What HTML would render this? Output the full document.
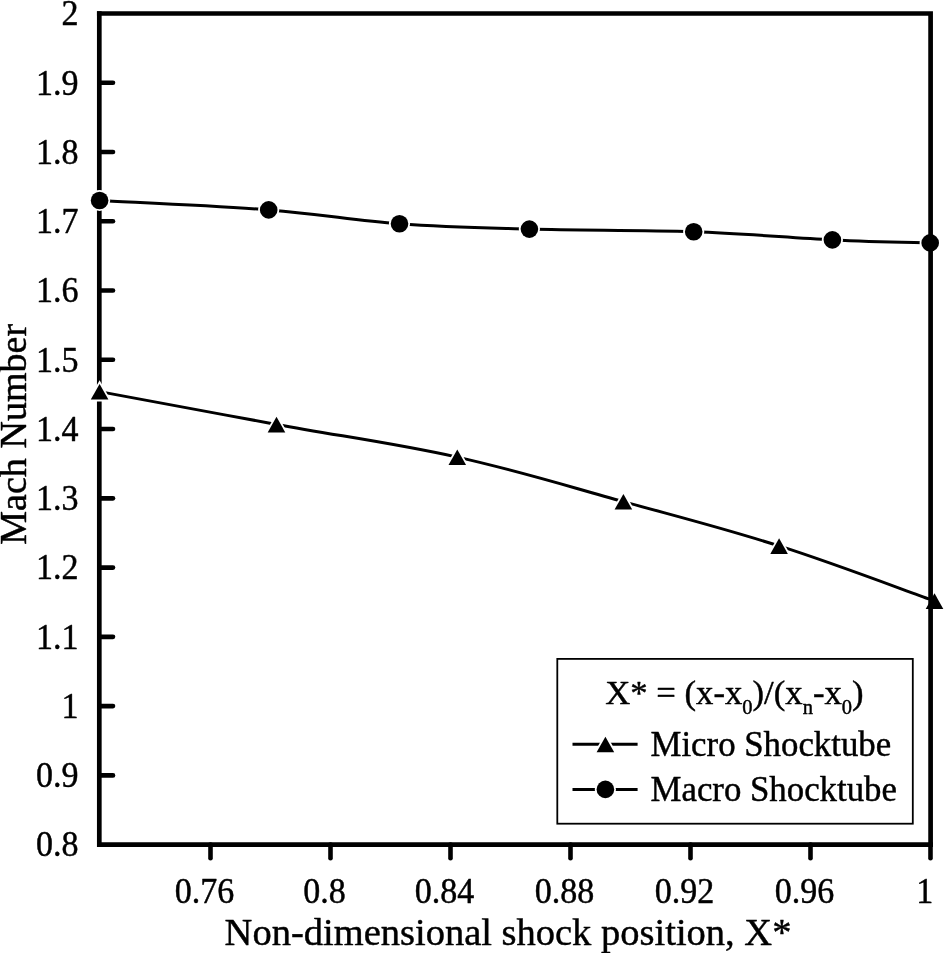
<!DOCTYPE html>
<html lang="en"><head><meta charset="utf-8"><title>Mach Number vs shock position</title>
<style>html,body{margin:0;padding:0;background:#fff}body{width:944px;height:953px;overflow:hidden}svg{display:block}text{font-family:"Liberation Serif","DejaVu Serif",serif;fill:#000;stroke:#000;stroke-width:0.45px;stroke-linejoin:round}</style></head><body>
<svg width="944" height="953" viewBox="0 0 944 953">
<rect width="944" height="953" fill="#fff"/>
<g stroke="#000" stroke-width="4.7" fill="none" stroke-linecap="square">
<path d="M99.3 13.5 V844.6 H930.6"/>
</g>
<g stroke="#000" stroke-width="4.6" stroke-linecap="round" fill="none">
<path d="M99.3 82.76 H113.0"/>
<path d="M99.3 152.03 H113.0"/>
<path d="M99.3 221.29 H113.0"/>
<path d="M99.3 290.55 H113.0"/>
<path d="M99.3 359.81 H113.0"/>
<path d="M99.3 429.07 H113.0"/>
<path d="M99.3 498.34 H113.0"/>
<path d="M99.3 567.60 H113.0"/>
<path d="M99.3 636.86 H113.0"/>
<path d="M99.3 706.12 H113.0"/>
<path d="M99.3 775.39 H113.0"/>
<path d="M210.5 844.6 V858.3"/>
<path d="M330.5 844.6 V858.3"/>
<path d="M450.5 844.6 V858.3"/>
<path d="M570.5 844.6 V858.3"/>
<path d="M690.5 844.6 V858.3"/>
<path d="M810.5 844.6 V858.3"/>
<path d="M930.5 844.6 V858.3"/>
</g>
<g stroke="#000" stroke-width="3.0" fill="none">
<path d="M99.6 200.5 C130.0 202.2 214.7 205.7 268.7 209.9 C322.7 214.1 352.6 220.2 399.5 223.7 C446.4 227.2 476.4 227.6 529.4 229.1 C582.4 230.6 639.2 229.9 693.7 231.8 C748.2 233.7 789.8 237.9 832.4 239.9 C875.0 241.9 912.6 242.4 930.2 242.9"/>
<path d="M99.6 391.6 C131.4 397.5 212.1 412.6 276.5 424.4 C340.9 436.2 394.9 443.2 457.3 457.1 C519.7 471.0 565.5 485.6 623.4 501.6 C681.3 517.6 723.8 528.3 779.1 545.9 C834.4 563.5 903.3 589.9 930.6 599.6"/>
</g>
<g fill="#000" stroke="#fff" stroke-width="3.6" paint-order="stroke">
<circle cx="99.6" cy="200.5" r="8.8"/>
<circle cx="268.7" cy="209.9" r="8.8"/>
<circle cx="399.5" cy="223.7" r="8.8"/>
<circle cx="529.4" cy="229.1" r="8.8"/>
<circle cx="693.7" cy="231.8" r="8.8"/>
<circle cx="832.4" cy="239.9" r="8.8"/>
<circle cx="930.2" cy="242.9" r="8.8"/>
<path d="M99.6 384.0 L108.4 399.6 L90.8 399.6 Z"/>
<path d="M276.5 416.8 L285.3 432.4 L267.7 432.4 Z"/>
<path d="M457.3 449.5 L466.1 465.1 L448.5 465.1 Z"/>
<path d="M623.4 494.0 L632.2 509.6 L614.6 509.6 Z"/>
<path d="M779.1 538.3 L787.9 553.9 L770.3 553.9 Z"/>
<path d="M934.5 593.3 L943.3 608.9 L925.7 608.9 Z"/>
</g>
<path d="M99.3 13.5 H930.6 V844.6" stroke="#000" stroke-width="4.7" fill="none" stroke-linecap="square"/>
<g font-size="35.0" text-anchor="end">
<text transform="translate(78.4 25.3) scale(0.972 1)">2</text>
<text transform="translate(78.4 94.6) scale(0.972 1)">1.9</text>
<text transform="translate(78.4 163.8) scale(0.972 1)">1.8</text>
<text transform="translate(78.4 233.1) scale(0.972 1)">1.7</text>
<text transform="translate(78.4 302.4) scale(0.972 1)">1.6</text>
<text transform="translate(78.4 371.6) scale(0.972 1)">1.5</text>
<text transform="translate(78.4 440.9) scale(0.972 1)">1.4</text>
<text transform="translate(78.4 510.1) scale(0.972 1)">1.3</text>
<text transform="translate(78.4 579.4) scale(0.972 1)">1.2</text>
<text transform="translate(78.4 648.7) scale(0.972 1)">1.1</text>
<text transform="translate(78.4 717.9) scale(0.972 1)">1</text>
<text transform="translate(78.4 787.2) scale(0.972 1)">0.9</text>
<text transform="translate(78.4 856.4) scale(0.972 1)">0.8</text>
</g>
<g font-size="35.0" text-anchor="middle">
<text transform="translate(204.5 903.4) scale(0.972 1)">0.76</text>
<text transform="translate(324.5 903.4) scale(0.972 1)">0.8</text>
<text transform="translate(444.5 903.4) scale(0.972 1)">0.84</text>
<text transform="translate(564.5 903.4) scale(0.972 1)">0.88</text>
<text transform="translate(684.5 903.4) scale(0.972 1)">0.92</text>
<text transform="translate(804.5 903.4) scale(0.972 1)">0.96</text>
<text transform="translate(924.7 903.4) scale(0.972 1)">1</text>
</g>
<text x="508" y="945.2" font-size="38.5" text-anchor="middle">Non-dimensional shock position, X*</text>
<text transform="translate(26.0 434.3) rotate(-90)" font-size="38.1" text-anchor="middle">Mach Number</text>
<rect x="557.3" y="658.9" width="355.5" height="164.8" fill="#fff" stroke="#000" stroke-width="1.8"/>
<text x="734.4" y="704.3" font-size="34.7" text-anchor="middle">X* = (x-x<tspan font-size="20.5" dy="10">0</tspan><tspan dy="-10">)/(x</tspan><tspan font-size="20.5" dy="10">n</tspan><tspan dy="-10">-x</tspan><tspan font-size="20.5" dy="10">0</tspan><tspan dy="-10">)</tspan></text>
<g stroke="#000" stroke-width="3.0"><path d="M572.5 744.3 H637.6"/><path d="M572.5 789.4 H637.6"/></g>
<g fill="#000" stroke="#fff" stroke-width="3.6" paint-order="stroke"><path d="M605.4 736.7 L614.2 752.3 L596.6 752.3 Z"/><circle cx="605.4" cy="789.4" r="8.8"/></g>
<text x="650.5" y="755.6" font-size="34.8">Micro Shocktube</text>
<text x="650.5" y="800.6" font-size="34.8">Macro Shocktube</text>
</svg></body></html>
